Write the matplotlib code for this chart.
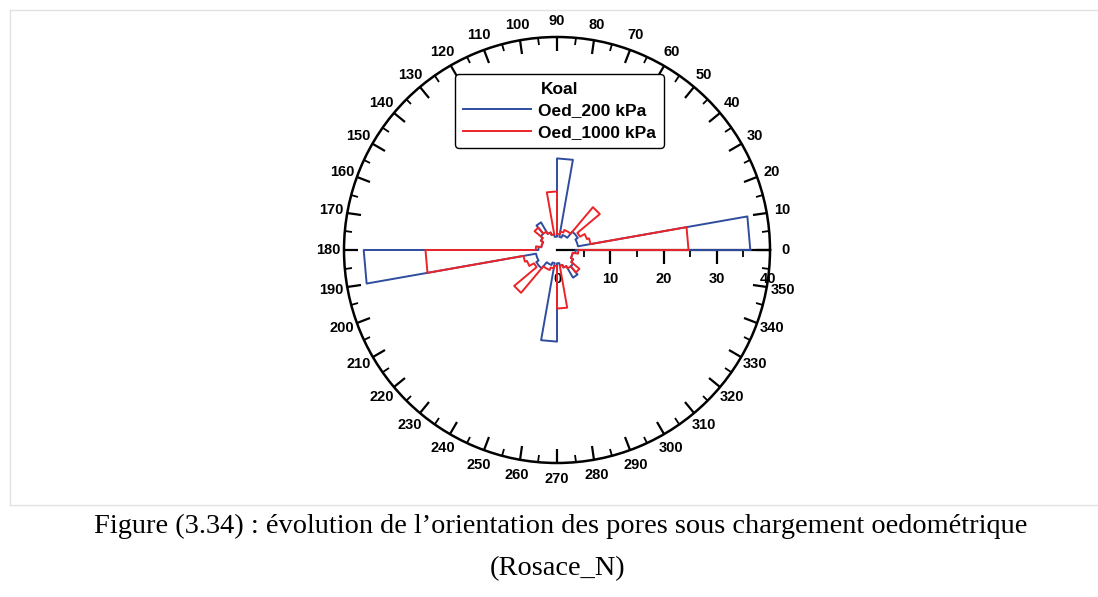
import numpy as np
import matplotlib
matplotlib.use("Agg")
import matplotlib.pyplot as plt
from matplotlib.lines import Line2D

# ---- data (10-degree bins, 0..350) ----
bin_start_deg = list(range(0, 360, 10))
oed_200 = [36.3, 4.0, 4.0, 4.5, 4.5, 3.0, 3.0, 2.5, 17.2,
           2.5, 3.0, 3.5, 6.0, 4.0, 3.5, 3.0, 3.0, 3.5,
           36.3, 4.0, 4.0, 4.5, 4.5, 3.0, 3.0, 2.5, 17.2,
           2.5, 3.0, 3.5, 6.0, 4.0, 3.5, 3.0, 3.0, 3.5]
oed_1000 = [24.7, 6.4, 6.0, 5.0, 10.5, 4.0, 4.0, 3.5, 3.0,
            11.0, 3.0, 3.5, 4.0, 5.5, 3.5, 3.0, 3.0, 4.0,
            24.7, 6.4, 6.0, 5.0, 10.5, 4.0, 4.0, 3.5, 3.0,
            11.0, 3.0, 3.5, 4.0, 5.5, 3.5, 3.0, 3.0, 4.0]
series_names = ["Oed_200 kPa", "Oed_1000 kPa"]
legend_title = "Koal"
theta_labels = [str(a) for a in range(0, 360, 10)]
r_ticks = [0, 10, 20, 30, 40]
r_major_marks = [10, 20, 30]
r_minor = [5, 15, 25, 35]
caption1 = "Figure (3.34) : évolution de l\u2019orientation des pores sous chargement oedométrique"
caption2 = "(Rosace_N)"

BLUE = "#2f4c9e"
RED = "#ec2327"

plt.rcParams['font.family'] = ['Liberation Sans', 'DejaVu Sans']

fig = plt.figure(figsize=(10.98, 5.97), dpi=100)
ax = fig.add_axes([344/1098, 1-463/597, 426/1098, 426/597], projection='polar')
ax.set_theta_zero_location('E')
ax.set_theta_direction(1)
ax.set_ylim(0, 40)
ax.grid(False)
ax.set_yticks([])
ax.spines['polar'].set_linewidth(1.8)

ax.set_thetagrids(bin_start_deg, theta_labels, fontsize=10.5, fontweight='bold')
ax.set_xticks(np.deg2rad(np.arange(5, 360, 10)), minor=True)
ax.tick_params(axis='x', which='both', top=True, bottom=False)
ax.tick_params(axis='x', which='major', direction='in', length=10, width=1.6, pad=4.5)
ax.tick_params(axis='x', which='minor', direction='in', length=5, width=1.3)

# radial axis along 0 deg
ax.plot([0, 0], [0, 40], color='k', lw=1.6, zorder=1, clip_on=False)
ax.plot(np.zeros(len(r_major_marks)), r_major_marks,
        linestyle='none', marker=3, markersize=10, mew=1.6, color='k', zorder=1)
ax.plot(np.zeros(len(r_minor)), r_minor, linestyle='none', marker=3, markersize=5,
        mew=1.3, color='k', zorder=1)
for rv in r_ticks:
    ax.annotate(str(rv), xy=(0, rv), xytext=(-2 if rv == 40 else 0, -29),
                textcoords='offset pixels',
                ha='center', va='center', fontsize=10.5, fontweight='bold',
                annotation_clip=False)

def step_outline(vals):
    edges = np.deg2rad(np.array(bin_start_deg + [360]))
    th = np.repeat(edges, 2)[1:-1]
    rr = np.repeat(np.array(vals), 2)
    th = np.append(th, edges[0])
    rr = np.append(rr, vals[0])
    return th, rr

th, rr = step_outline(oed_200)
l1, = ax.plot(th, rr, color=BLUE, lw=1.4, zorder=3, label=series_names[0])
th, rr = step_outline(oed_1000)
l2, = ax.plot(th, rr, color=RED, lw=1.4, zorder=4, label=series_names[1])

leg = fig.legend(handles=[l1, l2], labels=series_names, title=legend_title,
                 loc='center', bbox_to_anchor=(559.5/1098, 1-111/597),
                 prop={'weight': 'bold', 'size': 12.5},
                 title_fontproperties={'weight': 'bold', 'size': 12.5},
                 handlelength=3.9, handletextpad=0.4, labelspacing=0.36,
                 borderpad=0.45, fancybox=True, framealpha=1, edgecolor='black')
leg.get_frame().set_linewidth(1.0)

# page decorations
grey = '#e2e2e2'
fig.add_artist(Line2D([10/1098, 1], [1-10/597, 1-10/597], color=grey, lw=1))
fig.add_artist(Line2D([10/1098, 10/1098], [1-10/597, 1-505/597], color=grey, lw=1))
fig.add_artist(Line2D([10/1098, 1], [1-505/597, 1-505/597], color=grey, lw=1))

fig.text(561/1098, 1-526/597, caption1, ha='center', va='center',
         fontsize=20.4, family='Liberation Serif')
fig.text(558/1098, 1-569/597, caption2, ha='center', va='center',
         fontsize=20.4, family='Liberation Serif')

fig.savefig('out.png', dpi=100)
